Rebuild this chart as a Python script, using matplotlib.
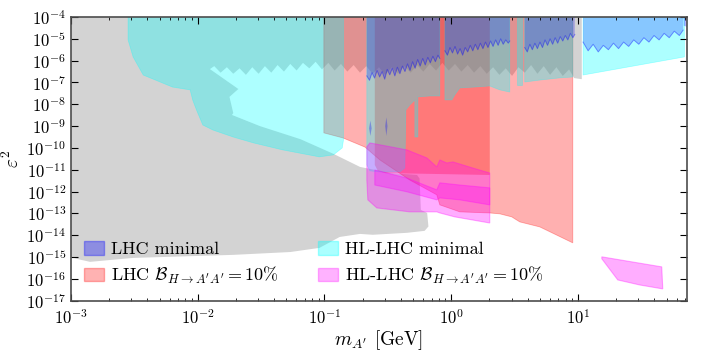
import matplotlib.pyplot as plt
import numpy as np
from matplotlib.patches import Patch
from matplotlib.ticker import NullLocator

plt.rcParams['font.family'] = 'serif'
plt.rcParams['font.serif'] = ['cmr10']
plt.rcParams['mathtext.fontset'] = 'cm'
plt.rcParams['axes.unicode_minus'] = False
plt.rcParams['axes.formatter.use_mathtext'] = True

# every value below: log10(m_A' / GeV) -> "lm", log10(eps^2) -> "le"

# existing constraints (gray), lower edge of the top band (jagged)
gray_jag_lm = [0.97, 0.93, 0.88, 0.83, 0.78, 0.73, 0.68, 0.63, 0.58, 0.53,
               0.48, 0.43, 0.38, 0.33, 0.28, 0.23, 0.18, 0.13, 0.08, 0.03,
               -0.02, -0.07, -0.12, -0.17, -0.22, -0.27, -0.32, -0.37, -0.42, -0.47,
               -0.52, -0.57, -0.62, -0.67, -0.72, -0.77, -0.82, -0.87, -0.92, -0.97,
               -1.02, -1.07, -1.12, -1.17, -1.22, -1.27, -1.32, -1.37, -1.42, -1.47,
               -1.52, -1.57, -1.62, -1.67, -1.72, -1.77, -1.82, -1.87, -1.92, -1.97,
               -2.04]
gray_jag_le = [-6.80, -6.40, -6.70, -6.30, -6.65, -6.25, -6.60, -6.20, -6.55, -6.30,
               -6.70, -6.35, -6.65, -6.30, -6.60, -6.25, -6.55, -6.20, -6.50, -6.15,
               -6.45, -6.10, -6.45, -6.15, -6.50, -6.20, -6.55, -6.25, -6.60, -6.30,
               -6.65, -6.30, -6.60, -6.25, -6.55, -6.20, -6.50, -6.15, -6.45, -6.10,
               -6.40, -6.05, -6.35, -6.10, -6.45, -6.15, -6.50, -6.20, -6.55, -6.25,
               -6.60, -6.30, -6.65, -6.35, -6.60, -6.30, -6.55, -6.25, -6.45, -6.20,
               -5.88]
# gray: hole edge, upper edge of beam-dump region, right side and bottom
gray_edge_lm = [-2.12, -1.68, -1.75, -1.72, -1.73, -1.51, -1.19, -0.93, -0.72, -0.48,
                -0.27, -0.25, -0.24, -0.19, -0.18, -0.21, -0.35, -0.62, -0.72, -0.88,
                -1.04, -1.27, -1.72, -2.51, -2.85, -2.95, -3.0]
gray_edge_le = [-5.51, -7.30, -7.66, -8.40, -8.49, -9.00, -9.60, -10.27, -10.87, -11.15,
                -11.24, -11.40, -12.84, -12.98, -13.60, -13.80, -13.89, -13.98, -13.94, -14.08,
                -14.58, -14.77, -14.90, -15.04, -15.22, -15.09, -15.00]

# HL-LHC minimal (cyan)
c1_lm = [-2.55, -2.55, -2.51, -2.43, -2.20, -2.06, -2.04, -2.01, -1.96, -1.88,
         -1.72, -1.56, -1.33, -1.04, -0.93, -0.86, -0.85, -0.85]
c1_le = [-4.0, -5.05, -5.83, -6.66, -7.21, -7.34, -7.80, -8.26, -8.95, -9.18,
         -9.50, -9.77, -10.09, -10.41, -10.32, -10.0, -9.63, -4.0]
c2a_lm = [-0.666, -0.666, -0.642, -0.563, -0.405, -0.366, -0.358, -0.327, -0.287, -0.287,
          -0.263, -0.263, -0.169, -0.09, -0.09]
c2a_le = [-4.0, -10.78, -11.05, -11.10, -11.10, -10.92, -8.26, -8.03, -7.80, -9.50,
          -9.50, -7.66, -7.62, -7.62, -4.0]
c2b_lm = [-0.05, -0.05, 0.005, 0.028, 0.068, 0.186, 0.304, 0.383, 0.462, 0.462]
c2b_le = [-4.0, -7.80, -7.80, -7.57, -7.25, -7.21, -7.16, -7.34, -7.44, -4.0]
c2c_lm = [0.517, 0.517, 0.557, 0.557]
c2c_le = [-4.0, -7.11, -7.11, -4.0]
c2d_lm = [0.58, 0.58, 0.70, 0.856, 0.959, 0.959]
c2d_le = [-4.0, -6.98, -6.89, -6.79, -6.75, -4.0]
c3_lm = [1.04, 1.04, 1.84, 1.84]
c3_le = [-4.0, -6.66, -5.83, -4.0]

# LHC minimal (blue), jagged lower edges
b1a_lm = [-0.666, -0.645, -0.625, -0.605, -0.585, -0.565, -0.545, -0.525, -0.505, -0.485,
          -0.465, -0.445, -0.425, -0.405, -0.385, -0.365, -0.345, -0.325, -0.305, -0.285,
          -0.265, -0.245, -0.225, -0.205, -0.185, -0.165, -0.145, -0.125, -0.105, -0.09]
b1a_le = [-6.70, -6.90, -6.55, -6.80, -6.45, -6.75, -6.50, -6.85, -6.40, -6.65,
          -6.35, -6.70, -6.30, -6.60, -6.25, -6.50, -6.15, -6.45, -6.05, -6.35,
          -5.95, -6.25, -5.90, -6.20, -5.85, -6.10, -5.80, -6.05, -5.75, -5.90]
b1b_lm = [-0.05, -0.03, -0.01, 0.01, 0.03, 0.05, 0.07, 0.09, 0.11, 0.13,
          0.15, 0.17, 0.19, 0.21, 0.23, 0.25, 0.27, 0.29, 0.31, 0.33,
          0.35, 0.37, 0.39, 0.41, 0.43, 0.45, 0.462]
b1b_le = [-5.55, -5.75, -5.40, -5.65, -5.35, -5.70, -5.45, -5.75, -5.40, -5.60,
          -5.30, -5.55, -5.25, -5.50, -5.20, -5.45, -5.15, -5.40, -5.10, -5.35,
          -5.05, -5.30, -5.00, -5.25, -5.05, -5.20, -5.10]
b1c_lm = [0.58, 0.60, 0.62, 0.64, 0.66, 0.68, 0.70, 0.72, 0.74, 0.76,
          0.78, 0.80, 0.82, 0.84, 0.86, 0.88, 0.90, 0.92, 0.94, 0.96, 0.975]
b1c_le = [-5.40, -5.60, -5.25, -5.50, -5.20, -5.45, -5.15, -5.40, -5.05, -5.30,
          -5.00, -5.25, -4.95, -5.20, -4.90, -5.10, -4.85, -5.05, -4.75, -4.95, -4.80]
b3_lm = [1.04, 1.08, 1.12, 1.16, 1.20, 1.24, 1.28, 1.32, 1.36, 1.40,
         1.44, 1.48, 1.52, 1.56, 1.60, 1.64, 1.68, 1.72, 1.76, 1.80, 1.83]
b3_le = [-5.15, -5.55, -5.25, -5.60, -5.30, -5.50, -5.20, -5.45, -5.15, -5.35,
         -5.05, -5.25, -4.95, -5.15, -4.85, -5.05, -4.75, -4.95, -4.65, -4.85, -4.60]
blob1_lm = [-0.638, -0.628, -0.638, -0.648]
blob1_le = [-8.75, -9.10, -9.45, -9.10]
blob2_lm = [-0.512, -0.503, -0.512, -0.521]
blob2_le = [-8.60, -9.00, -9.45, -9.00]
corner_lm = [1.835, 1.86, 1.86, 1.835]
corner_le = [-4.0, -4.0, -4.45, -4.40]

# LHC B(H->A'A') = 10% (red)
r1_lm = [-1.005, -1.005, -0.855, -0.681, -0.563, -0.327, -0.114, -0.09, 0.068, 0.304,
         0.383, 0.478, 0.502, 0.541, 0.699, 0.959, 0.959]
r1_le = [-4.0, -9.31, -9.54, -9.96, -10.55, -11.47, -12.15, -12.61, -12.93, -12.98,
         -13.02, -13.16, -13.25, -13.39, -13.62, -14.35, -4.0]
r2_lm = [-0.603, -0.603, -0.579, -0.524, 0.304, 0.304]
r2_le = [-4.0, -10.78, -11.05, -11.15, -11.24, -4.0]

# HL-LHC B(H->A'A') = 10% (magenta)
m1_lm = [-0.666, -0.642, -0.350, -0.192, -0.114, -0.090, -0.035, 0.013, 0.170, 0.304,
         0.304, 0.028, -0.090, -0.114, -0.327, -0.587, -0.658, -0.666]
m1_le = [-9.95, -9.77, -10.09, -10.46, -10.87, -10.55, -10.69, -10.64, -10.92, -11.15,
         -13.44, -13.16, -12.98, -12.93, -12.93, -12.75, -12.38, -11.47]
m2_lm = [-0.603, -0.350, -0.114, -0.090, 0.068, 0.304, 0.304, 0.068, -0.090, -0.114, -0.350, -0.603]
m2_le = [-11.01, -11.38, -11.92, -11.60, -11.70, -11.83, -12.61, -12.38, -12.29, -12.38, -12.01, -11.70]
m3_lm = [1.188, 1.661, 1.669, 1.487, 1.314, 1.188]
m3_le = [-14.99, -15.45, -16.46, -16.28, -16.05, -15.08]

BLUE, CYAN, RED, MAG = 'blue', 'cyan', 'red', 'magenta'
A = 0.32

fig = plt.figure(figsize=(7.08, 3.54), dpi=100)
ax = fig.add_axes([0.1003, 0.1506, 0.870, 0.8014])
ax.set_xscale('log')
ax.set_yscale('log')


def region(lm, le, color, alpha=A, lw=0.6):
    ax.fill(10.0 ** np.asarray(lm), 10.0 ** np.asarray(le), color=color,
            alpha=alpha, lw=lw)


def blue_band(lm, le):
    xs = [lm[0]] + lm + [lm[-1]]
    ys = [-4.0] + le + [-4.0]
    region(xs, ys, BLUE, alpha=0.22, lw=0)
    ax.plot(10.0 ** np.asarray(lm), 10.0 ** np.asarray(le), color=BLUE,
            alpha=0.4, lw=0.7)


# gray background constraints
g_lm = [-3.0, 1.03, 1.03] + gray_jag_lm + gray_edge_lm
g_le = [-4.0, -4.0, -6.85] + gray_jag_le + gray_edge_le
ax.fill(10.0 ** np.asarray(g_lm), 10.0 ** np.asarray(g_le), color='lightgray', lw=0)

region(r1_lm, r1_le, RED, alpha=0.31)
region(r2_lm, r2_le, RED, alpha=0.31, lw=0)
for lm, le in [(c1_lm, c1_le), (c2a_lm, c2a_le), (c2b_lm, c2b_le),
               (c2c_lm, c2c_le), (c2d_lm, c2d_le), (c3_lm, c3_le)]:
    region(lm, le, CYAN, lw=0.5)
for lm, le in [(m1_lm, m1_le), (m2_lm, m2_le), (m3_lm, m3_le)]:
    region(lm, le, MAG, lw=0.8)
for lm, le in [(b1a_lm, b1a_le), (b1b_lm, b1b_le), (b1c_lm, b1c_le), (b3_lm, b3_le)]:
    blue_band(lm, le)
for lm, le in [(blob1_lm, blob1_le), (blob2_lm, blob2_le), (corner_lm, corner_le)]:
    region(lm, le, BLUE, alpha=0.3, lw=0)

ax.set_xlim(1e-3, 10 ** 1.86)
ax.set_ylim(1e-17, 1e-4)
ax.set_yticks([10.0 ** k for k in range(-17, -3)])
ax.yaxis.set_minor_locator(NullLocator())
ax.tick_params(which='both', direction='in', top=True, right=True, labelsize=12)
ax.tick_params(which='major', length=5)
ax.tick_params(which='minor', length=2.5)
ax.tick_params(axis='x', pad=5)
for s in ax.spines.values():
    s.set_color('0.3')
    s.set_linewidth(1.2)

ax.set_xlabel(r"$m_{A'}$ [GeV]", fontsize=14, labelpad=1)
ax.set_ylabel(r'$\varepsilon^2$', fontsize=14, labelpad=2)

handles = [
    Patch(facecolor=BLUE, edgecolor=BLUE, alpha=0.33, label='LHC minimal'),
    Patch(facecolor=RED, edgecolor=RED, alpha=0.3, label=r"LHC $\mathcal{B}_{H\to A'A'}=10\%$"),
    Patch(facecolor=CYAN, edgecolor=CYAN, alpha=0.33, label='HL-LHC minimal'),
    Patch(facecolor=MAG, edgecolor=MAG, alpha=0.3, label=r"HL-LHC $\mathcal{B}_{H\to A'A'}=10\%$"),
]
ax.legend(handles=handles, loc='lower left', bbox_to_anchor=(0.0, 0.008), ncol=2,
          frameon=False, fontsize=13, handlelength=1.1, handleheight=0.8,
          handletextpad=0.4, labelspacing=0.4, columnspacing=2.2, borderaxespad=0.3)

fig.savefig('out.png', dpi=100)
